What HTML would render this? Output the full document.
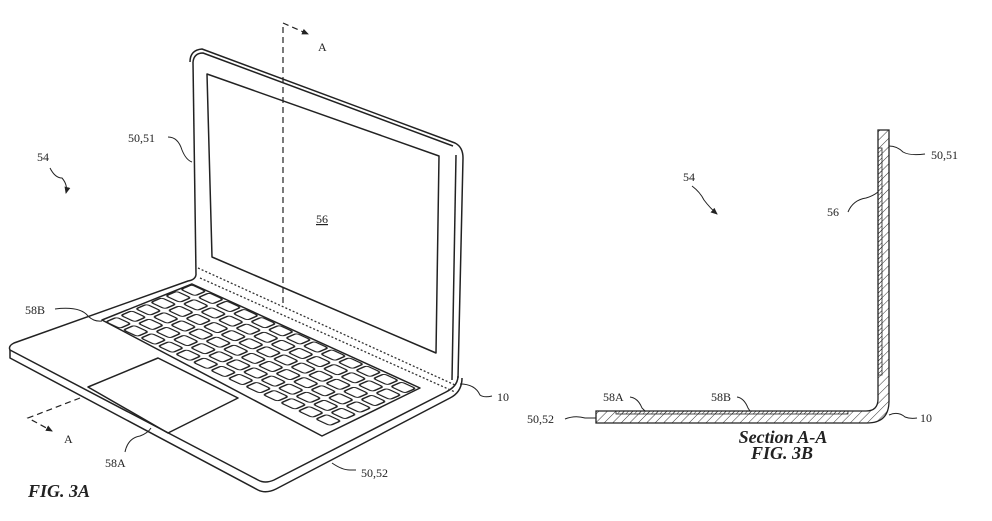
<!DOCTYPE html>
<html><head><meta charset="utf-8"><style>
html,body{margin:0;padding:0;background:#fff;}
svg{display:block;}
text{font-family:"Liberation Serif",serif;font-size:12px;fill:#222;}
.fig{font-weight:bold;font-style:italic;font-size:18px;}
</style></head><body>
<svg width="992" height="521" viewBox="0 0 992 521" xmlns="http://www.w3.org/2000/svg">
<defs>
<pattern id="keys" patternUnits="userSpaceOnUse" width="1" height="1">
<rect x="0.1" y="0.14" width="0.8" height="0.72" rx="0.15" fill="none" stroke="#222" stroke-width="0.1"/>
</pattern>
<pattern id="hatch" patternUnits="userSpaceOnUse" width="6" height="6" patternTransform="rotate(45)">
<line x1="0" y1="0" x2="0" y2="6" stroke="#333" stroke-width="1"/>
</pattern>
<pattern id="hatch2" patternUnits="userSpaceOnUse" width="3" height="3" patternTransform="rotate(45)">
<line x1="0" y1="0" x2="0" y2="3" stroke="#222" stroke-width="1"/>
</pattern>
<marker id="ah" markerWidth="8" markerHeight="8" refX="6" refY="4" orient="auto" markerUnits="userSpaceOnUse">
<path d="M0,1 L7,4 L0,7 Z" fill="#222"/>
</marker>
</defs>
<g fill="none" stroke="#222" stroke-width="1.5" stroke-linejoin="round">
<path d="M190,62 Q190,50 202,49 L455,143 Q463,147 463,158 L458,378"/>
<path d="M193,62 Q194,53 203,53 L453,146"/>
<path d="M456,155 L452,380"/>
<path d="M196,275 L193,62"/>
<path d="M207,74 L439,156 L436,353 L212,257 Z"/>
<path d="M196,275 Q195,280 188,281 L14,343 Q8,346 10,350 L258,480 Q265,484 274,480 L446,392 Q458,386 458,376"/>
<path d="M10,350 L10,358 L258,490 Q266,494 276,489 L450,398 Q462,392 462,378"/>
<path d="M88,387 L158,358 L238,398 L168,433 Z"/>
<path d="M102,320 L192,284 L420,388 L322,436 Z"/>
</g>
<g transform="matrix(17.5,8.1,15,-6.5,102,322)">
<rect x="0" y="0" width="13" height="6" fill="url(#keys)"/>
</g>
<g fill="none" stroke="#333" stroke-width="1.3" stroke-dasharray="2,2">
<path d="M198,268 L455,385"/>
<path d="M200,278 L455,392"/>
</g>
<g fill="none" stroke="#222" stroke-width="1.2" stroke-dasharray="6,4">
<path d="M283,303 L283,23 L308,34" marker-end="url(#ah)"/>
<path d="M80,398 L28,418 L52,431" marker-end="url(#ah)"/>
</g>
<text x="318" y="51" font-family="Liberation Sans" font-size="13">A</text>
<text x="64" y="443" font-family="Liberation Sans" font-size="13">A</text>
<g fill="none" stroke="#222" stroke-width="1">
<path d="M50,168 Q55,178 62,178 Q68,185 66,193" marker-end="url(#ah)"/>
<path d="M168,137 Q178,137 182,150 Q186,160 192,162"/>
<path d="M55,309 Q80,306 88,316 Q94,322 102,321"/>
<path d="M125,452 Q128,438 140,436 Q148,433 151,428"/>
<path d="M332,463 Q342,470 350,470 L356,470"/>
<path d="M460,384 Q475,384 480,395 Q484,398 492,396"/>
</g>
<text x="37" y="161">54</text>
<text x="128" y="142">50,51</text>
<text x="316" y="223" text-decoration="underline">56</text>
<text x="25" y="314">58B</text>
<text x="105" y="467">58A</text>
<text x="361" y="477">50,52</text>
<text x="497" y="401">10</text>
<text x="28" y="497" class="fig">FIG. 3A</text>
<path d="M878,130 L889,130 L889,401 Q889,423 867,423 L596,423 L596,411 L866,411 Q878,411 878,399 Z" fill="url(#hatch)" stroke="#222" stroke-width="1.3"/>
<rect x="878" y="148" width="4" height="227" fill="url(#hatch2)" stroke="#222" stroke-width="0.8"/>
<rect x="616" y="411" width="232" height="3" fill="url(#hatch2)" stroke="#222" stroke-width="0.8"/>
<g fill="none" stroke="#222" stroke-width="1">
<path d="M692,186 Q700,192 704,200 Q710,208 717,214" marker-end="url(#ah)"/>
<path d="M889,146 Q897,146 903,152 Q910,156 925,154"/>
<path d="M848,212 Q853,200 866,198 Q873,196 878,192"/>
<path d="M630,397 Q638,398 642,408 L645,411"/>
<path d="M737,397 Q744,398 748,408 L750,411"/>
<path d="M565,419 Q575,415 585,418 L596,418"/>
<path d="M889,415 Q898,411 905,417 Q910,419 917,418"/>
</g>
<text x="931" y="159">50,51</text>
<text x="827" y="216">56</text>
<text x="683" y="181">54</text>
<text x="603" y="401">58A</text>
<text x="711" y="401">58B</text>
<text x="527" y="423">50,52</text>
<text x="920" y="422">10</text>
<text x="783" y="443" class="fig" text-anchor="middle" font-size="16">Section A-A</text>
<text x="782" y="459" class="fig" text-anchor="middle" font-size="16">FIG. 3B</text>
</svg>
</body></html>
